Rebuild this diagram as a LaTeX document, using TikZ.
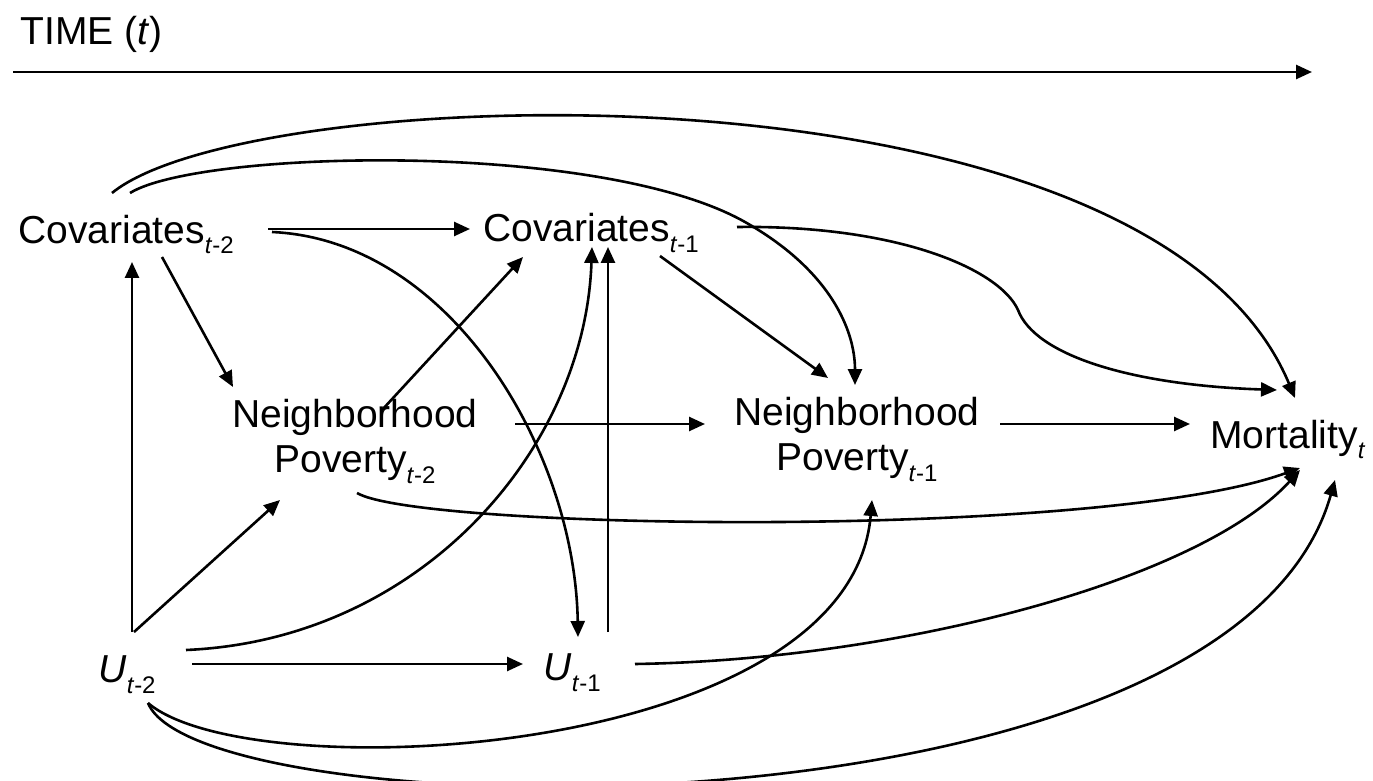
\documentclass[tikz,border=0pt]{standalone}
\usepackage{fontspec}
\setmainfont{Liberation Sans}
\usetikzlibrary{arrows.meta,calc}
\newcommand{\mysub}[1]{\raisebox{-5.5pt}{\fontsize{12}{12}\selectfont #1}}
\begin{document}
\begin{tikzpicture}[x=0.5pt,y=-0.5pt,
  lbl/.style={inner sep=0pt, font=\fontsize{19.5}{22.5}\selectfont},
  arr/.style={line width=1.3pt, -{Triangle[length=8pt,width=7pt]}}]
\useasboundingbox (0,0) rectangle (1373,781);
% nodes
\node[lbl, anchor=base west] (time) at (20,45) {TIME (\textit{t})};
\node[lbl, anchor=base west] (cov2) at (18,243) {Covariates\mysub{\textit{t}-2}};
\node[lbl, anchor=base west] (cov1) at (483,242) {Covariates\mysub{\textit{t}-1}};
\node[lbl, anchor=north, align=center] (np2) at (355,399) {Neighborhood\\Poverty\mysub{\textit{t}-2}};
\node[lbl, anchor=north, align=center] (np1) at (857,397) {Neighborhood\\Poverty\mysub{\textit{t}-1}};
\node[lbl, anchor=base west] (mort) at (1210,448) {Mortality\mysub{\textit{t}}};
\node[lbl, anchor=base west] (u2) at (98,682) {\textit{U}\mysub{\textit{t}-2}};
\node[lbl, anchor=base west] (u1) at (543,680) {\textit{U}\mysub{\textit{t}-1}};
\coordinate (tend) at (1312,72);
% time axis
\draw[arr] ($(time.base west)+(-7,27)$) -- (tend);
% straight connectors
\draw[arr] ($(cov2.base west)+(250,-14)$) -- ($(cov1.base west)+(-13,-13)$);
\draw[arr] ($(cov2.base west)+(144,14)$) -- ($(np2.north)+(-122,-12)$);
\draw[arr] ($(u2.base west)+(34,-50)$) -- ($(cov2.base west)+(114,19)$);
\draw[arr] ($(u2.base west)+(36,-50)$) -- ($(np2.north)+(-75,101)$);
\draw[arr] ($(u1.base west)+(65,-48)$) -- ($(cov1.base west)+(125,5)$);
\draw[arr] ($(u2.base west)+(94,-18)$) -- ($(u1.base west)+(-20,-16)$);
\draw[arr] ($(np2.north)+(27,11)$) -- ($(cov1.base west)+(40,15)$);
\draw[arr] ($(np2.north)+(160,25)$) -- ($(np1.north)+(-152,27)$);
\draw[arr] ($(np1.north)+(143,27)$) -- ($(mort.base west)+(-20,-24)$);
\draw[arr] ($(cov1.base west)+(177,14)$) -- ($(np1.north)+(-29,-19)$);
% curved connectors
\draw[arr] ($(cov2.base west)+(254,-11)$) .. controls (450,240) and (575,450) .. ($(u1.base west)+(35,-43)$);
\draw[arr] ($(u2.base west)+(88,-32)$) .. controls (420,640) and (585,450) .. ($(cov1.base west)+(109,5)$);
\draw[arr] ($(np2.north)+(2,94)$) .. controls (420,530) and (1100,540) .. ($(mort.base west)+(90,20)$);
\draw[arr] ($(cov2.base west)+(112,-50)$) .. controls (200,150) and (600,140) .. (745,222) .. controls (830,270) and (855,330) .. ($(np1.north)+(-2,-12)$);
\draw[arr] ($(cov2.base west)+(94,-50)$) .. controls (250,80) and (1150,50) .. ($(mort.base west)+(85,-50)$);
\draw[arr] ($(cov1.base west)+(254,-15)$) .. controls (900,225) and (1000,270) .. (1018,310) .. controls (1035,355) and (1130,385) .. ($(mort.base west)+(67,-58)$);
\draw[arr] ($(u1.base west)+(92,-16)$) .. controls (900,660) and (1200,580) .. ($(mort.base west)+(90,22)$);
\draw[arr] ($(u2.base west)+(50,21)$) .. controls (250,790) and (850,760) .. ($(np1.north)+(15,103)$);
\draw[arr] ($(u2.base west)+(50,21)$) .. controls (200,830) and (1230,850) .. ($(mort.base west)+(125,32)$);
\end{tikzpicture}
\end{document}
